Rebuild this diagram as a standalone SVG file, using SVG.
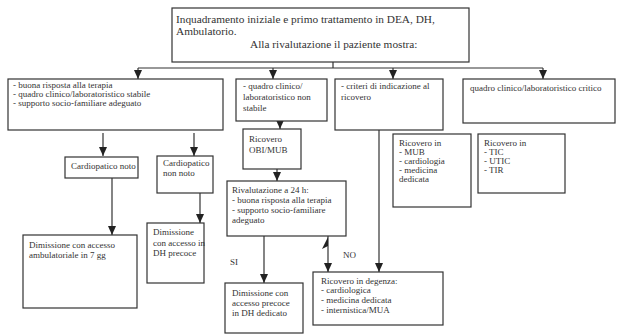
<svg xmlns="http://www.w3.org/2000/svg" width="622" height="335" viewBox="0 0 622 335">
<style>
.b{fill:#fff;stroke:#333;stroke-width:1.2}
.c{fill:none;stroke:#333;stroke-width:1.2}
text{font-family:"Liberation Serif","Times New Roman",serif;fill:#333;font-size:9px}
.t{font-size:11.3px}
</style>
<defs>
<marker id="ar" markerWidth="9" markerHeight="8" refX="9" refY="4" orient="auto" markerUnits="userSpaceOnUse" viewBox="0 0 9 8">
<path d="M0,0 L9,4 L0,8 Z" fill="#222"/>
</marker>
</defs>
<rect width="622" height="335" fill="#fff"/>
<g id="connectors">
<path class="c" d="M333,62 V68 M138,68 H543"/>
<path class="c" d="M138,68 V79" marker-end="url(#ar)"/>
<path class="c" d="M273,68 V79" marker-end="url(#ar)"/>
<path class="c" d="M393,68 V79" marker-end="url(#ar)"/>
<path class="c" d="M543,68 V79" marker-end="url(#ar)"/>
<path class="c" d="M103,133 V156" marker-end="url(#ar)"/>
<path class="c" d="M194,133 V156" marker-end="url(#ar)"/>
<path class="c" d="M112,178 V235" marker-end="url(#ar)"/>
<path class="c" d="M200,193 V223" marker-end="url(#ar)"/>
<path class="c" d="M280,121 V129" marker-end="url(#ar)"/>
<path class="c" d="M277,169 V181" marker-end="url(#ar)"/>
<path class="c" d="M264,236 V283" marker-end="url(#ar)"/>
<path class="c" d="M328,236 V272" marker-end="url(#ar)"/>
<path d="M328,237 L322,249 L328,246 Z" fill="#222"/>
<path class="c" d="M379,130 V272" marker-end="url(#ar)"/>
<text x="230" y="265">SI</text>
<text x="343" y="258">NO</text>
</g>
<g id="n-top">
<rect class="b" x="172" y="8" width="297" height="54"/>
<text class="t" x="176" y="23">Inquadramento iniziale e primo trattamento in DEA, DH,</text>
<text class="t" x="176" y="35">Ambulatorio.</text>
<text class="t" x="250" y="48">Alla rivalutazione il paziente mostra:</text>
</g>
<g id="n-buona">
<rect class="b" x="8" y="79" width="215" height="51"/>
<text x="13" y="88">- buona risposta alla terapia</text>
<text x="13" y="97">- quadro clinico/laboratoristico stabile</text>
<text x="13" y="106">- supporto socio-familiare adeguato</text>
</g>
<g id="n-nonstabile">
<rect class="b" x="236" y="79" width="91" height="42"/>
<text x="243" y="89">- quadro clinico/</text>
<text x="243" y="100">laboratoristico non</text>
<text x="243" y="111">stabile</text>
</g>
<g id="n-criteri">
<rect class="b" x="335" y="79" width="108" height="51"/>
<text x="341" y="89">- criteri di indicazione al</text>
<text x="341" y="100">ricovero</text>
</g>
<g id="n-critico">
<rect class="b" x="463" y="79" width="152" height="44"/>
<text x="470" y="91">quadro clinico/laboratoristico critico</text>
</g>
<g id="n-cardnoto">
<rect class="b" x="65" y="157" width="73" height="21"/>
<text x="71" y="169">Cardiopatico noto</text>
</g>
<g id="n-cardnonnoto">
<rect class="b" x="157" y="156" width="56" height="37"/>
<text x="163" y="166">Cardiopatico</text>
<text x="163" y="176">non noto</text>
</g>
<g id="n-obi">
<rect class="b" x="243" y="129" width="58" height="40"/>
<text x="249" y="142">Ricovero</text>
<text x="249" y="153">OBI/MUB</text>
</g>
<g id="n-rival">
<rect class="b" x="227" y="181" width="119" height="55"/>
<text x="232" y="193">Rivalutazione a 24 h:</text>
<text x="232" y="203">- buona risposta alla terapia</text>
<text x="232" y="213">- supporto socio-familiare</text>
<text x="232" y="223">adeguato</text>
</g>
<g id="n-mub">
<rect class="b" x="393" y="134" width="78" height="73"/>
<text x="399" y="146">Ricovero in</text>
<text x="399" y="155">- MUB</text>
<text x="399" y="164">- cardiologia</text>
<text x="399" y="173">- medicina</text>
<text x="399" y="182">dedicata</text>
</g>
<g id="n-tic">
<rect class="b" x="478" y="134" width="87" height="59"/>
<text x="484" y="146">Ricovero in</text>
<text x="484" y="155">- TIC</text>
<text x="484" y="164">- UTIC</text>
<text x="484" y="173">- TIR</text>
</g>
<g id="n-dim7">
<rect class="b" x="23" y="235" width="114" height="73"/>
<text x="29" y="248">Dimissione con accesso</text>
<text x="29" y="258">ambulatoriale in 7 gg</text>
</g>
<g id="n-dimdh">
<rect class="b" x="147" y="223" width="57" height="60"/>
<text x="153" y="235">Dimissione</text>
<text x="153" y="246">con accesso in</text>
<text x="153" y="256">DH precoce</text>
</g>
<g id="n-dimprecoce">
<rect class="b" x="225" y="283" width="78" height="50"/>
<text x="232" y="296">Dimissione con</text>
<text x="232" y="306">accesso precoce</text>
<text x="232" y="316">in DH dedicato</text>
</g>
<g id="n-degenza">
<rect class="b" x="313" y="272" width="130" height="53"/>
<text x="321" y="284">Ricovero in degenza:</text>
<text x="321" y="293">- cardiologica</text>
<text x="321" y="303">- medicina dedicata</text>
<text x="321" y="313">- internistica/MUA</text>
</g>
</svg>
